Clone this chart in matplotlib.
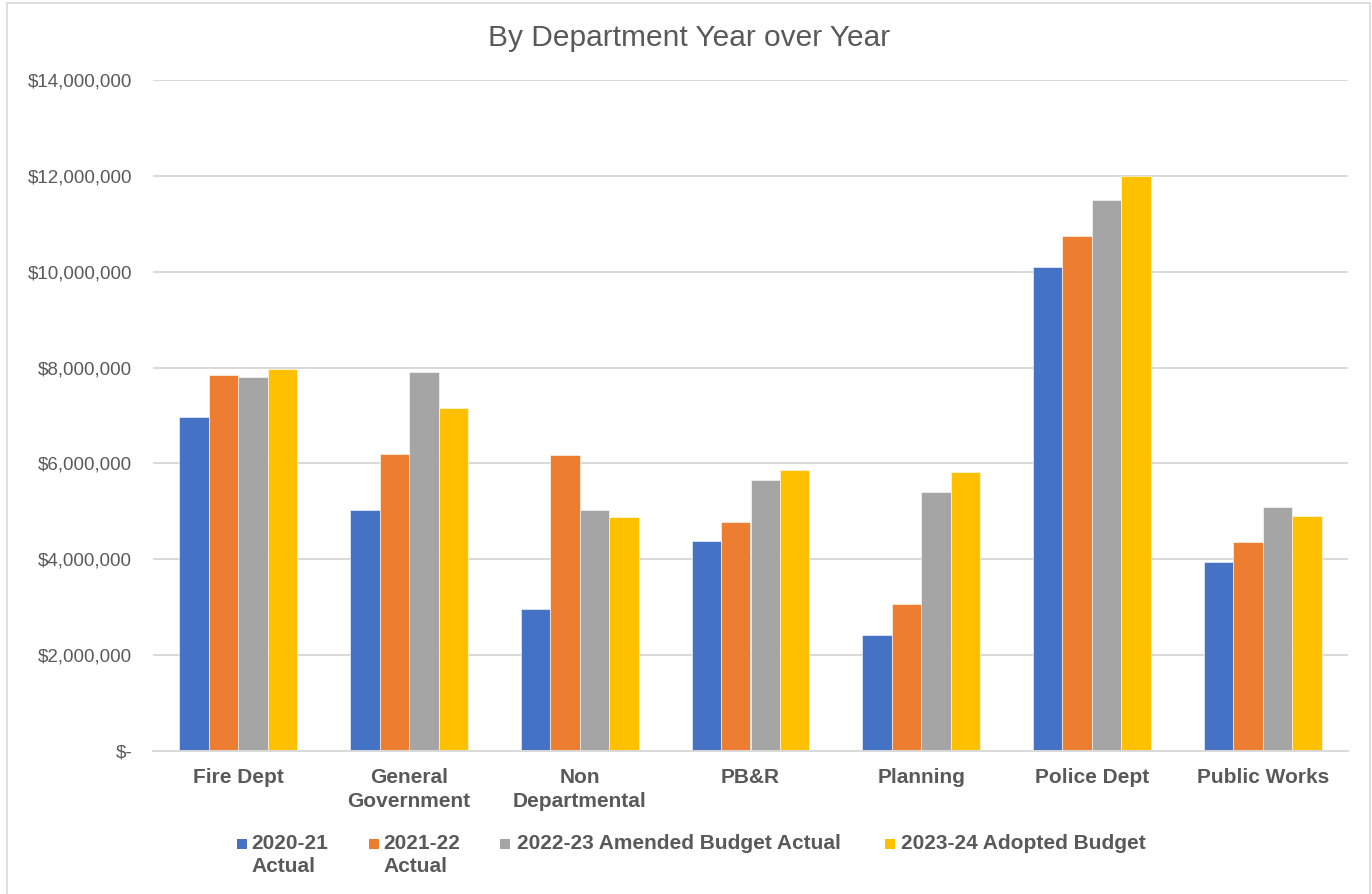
import matplotlib
matplotlib.use("Agg")
import matplotlib.pyplot as plt
from matplotlib.patches import Rectangle
from matplotlib.ticker import FuncFormatter, MultipleLocator
import numpy as np

# Department spending by fiscal year
departments = ["Fire Dept", "General\nGovernment", "Non\nDepartmental", "PB&R",
               "Planning", "Police Dept", "Public Works"]
series_names = ["2020-21\nActual", "2021-22\nActual",
                "2022-23 Amended Budget Actual", "2023-24 Adopted Budget"]
actual_2020_21 = [6975000, 5020000, 2970000, 4390000, 2410000, 10100000, 3940000]
actual_2021_22 = [7850000, 6190000, 6180000, 4770000, 3060000, 10740000, 4370000]
amended_2022_23 = [7810000, 7910000, 5030000, 5650000, 5400000, 11500000, 5100000]
adopted_2023_24 = [7960000, 7150000, 4880000, 5860000, 5830000, 12000000, 4900000]
series_values = [actual_2020_21, actual_2021_22, amended_2022_23, adopted_2023_24]
colors = ["#4472C4", "#ED7D31", "#A5A5A5", "#FFC000"]

text_color = "#595959"
grid_color = "#D9D9D9"
plt.rcParams["font.family"] = ["Liberation Sans", "DejaVu Sans"]

W, H = 1372, 894
fig = plt.figure(figsize=(W / 100, H / 100), dpi=100)
ax = fig.add_axes([153 / W, 1 - 751 / H, (1348 - 153) / W, (751 - 80) / H])

x = np.arange(len(departments))
n = len(series_values)
bar_w = 0.1725
for i, (vals, col) in enumerate(zip(series_values, colors)):
    offs = (i - (n - 1) / 2) * bar_w
    ax.bar(x + offs, vals, width=bar_w, color=col, edgecolor="white",
           linewidth=0.4, zorder=3)

ax.set_xlim(-0.5, len(departments) - 0.5)
ax.set_ylim(0, 14000000)
ax.yaxis.set_major_locator(MultipleLocator(2000000))
ax.yaxis.set_major_formatter(FuncFormatter(
    lambda v, p: "$-" if v == 0 else "${:,.0f}".format(v)))
ax.grid(axis="y", color=grid_color, linewidth=1.4, zorder=0)
for s in ["top", "right", "left"]:
    ax.spines[s].set_visible(False)
ax.spines["bottom"].set_color(grid_color)
ax.spines["bottom"].set_linewidth(1.4)
ax.spines["bottom"].set_zorder(4)

ax.set_xticks(x)
ax.set_xticklabels(departments, fontsize=15, fontweight="bold",
                   color=text_color, linespacing=1.35, va="top")
ax.tick_params(axis="x", length=0, pad=12)
ax.tick_params(axis="y", length=0, pad=15, labelsize=13.5, labelcolor=text_color)

fig.text(689 / W, 1 - 38 / H, "By Department Year over Year", fontsize=21.5,
         color=text_color, ha="center", va="center")

# Legend drawn as a row of square swatches with left-aligned labels
swatch_x = [237, 369, 500, 885]
text_x = [251, 383, 517, 901]
for sx, tx, name, col in zip(swatch_x, text_x, series_names, colors):
    fig.patches.append(Rectangle((sx / W, 1 - 849 / H), 10 / W, 10 / H,
                                 transform=fig.transFigure, facecolor=col,
                                 edgecolor="none"))
    fig.text(tx / W, 1 - 834 / H, name, fontsize=15, fontweight="bold",
             color=text_color, ha="left", va="top", linespacing=1.3)

# Chart frame
fig.patches.append(Rectangle((7 / W, -0.01), (1370 - 7) / W, 1.01 - 3 / H,
                             transform=fig.transFigure, facecolor="none",
                             edgecolor=grid_color, linewidth=1.2))

fig.savefig("out.png", dpi=100)
